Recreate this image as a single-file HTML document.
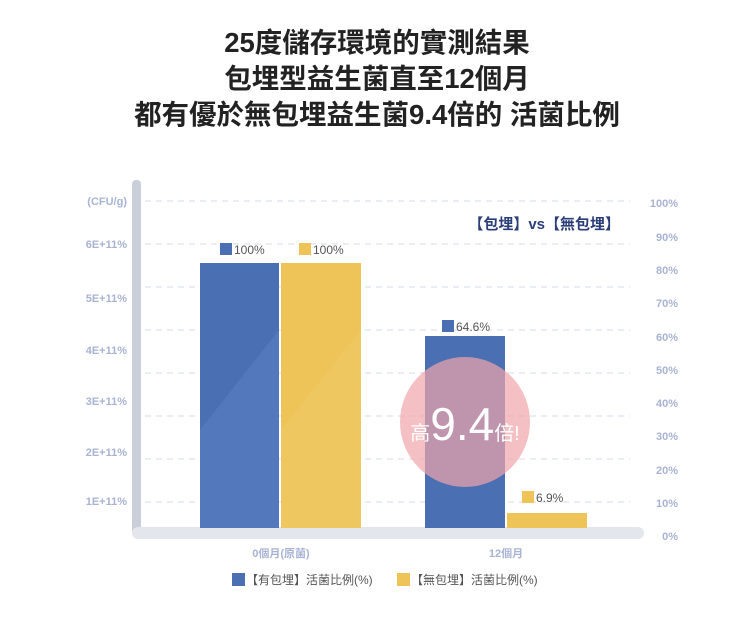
<!DOCTYPE html>
<html><head><meta charset="utf-8"><style>
body{margin:0;background:#fff;width:754px;height:613px;overflow:hidden;font-family:"Liberation Sans","Noto Sans CJK TC",sans-serif;}
</style></head><body>
<svg width="754" height="613" xmlns="http://www.w3.org/2000/svg" font-family="Liberation Sans, Noto Sans CJK TC, sans-serif">
<g font-size="27.5" font-weight="bold" fill="#222" text-anchor="middle">
<text x="377" y="52">25度儲存環境的實測結果</text>
<text x="377" y="88">包埋型益生菌直至12個月</text>
<text x="377" y="124">都有優於無包埋益生菌9.4倍的 活菌比例</text>
</g>
<g stroke="#d6dcea" stroke-dasharray="6,5" stroke-width="1">
<line x1="145" y1="201" x2="630" y2="201"/><line x1="145" y1="244" x2="630" y2="244"/>
<line x1="145" y1="287" x2="630" y2="287"/><line x1="145" y1="330" x2="630" y2="330"/>
<line x1="145" y1="373" x2="630" y2="373"/><line x1="145" y1="416" x2="630" y2="416"/>
<line x1="145" y1="459" x2="630" y2="459"/><line x1="145" y1="502" x2="630" y2="502"/>
</g>
<rect x="132" y="180" width="9" height="356" rx="4" fill="#c9ced9"/>
<rect x="132" y="527" width="512" height="12" rx="6" fill="#e3e6ed"/>
<g font-size="11" font-weight="bold" fill="#a9b3d3" text-anchor="end">
<text x="127" y="205">(CFU/g)</text><text x="127" y="248">6E+11%</text>
<text x="127" y="302">5E+11%</text><text x="127" y="354">4E+11%</text>
<text x="127" y="405">3E+11%</text><text x="127" y="456">2E+11%</text>
<text x="127" y="505">1E+11%</text>
</g>
<g font-size="11" font-weight="bold" fill="#a9b3d3" text-anchor="end">
<text x="678" y="207">100%</text><text x="678" y="241">90%</text><text x="678" y="274">80%</text>
<text x="678" y="307">70%</text><text x="678" y="341">60%</text><text x="678" y="374">50%</text>
<text x="678" y="407">40%</text><text x="678" y="440">30%</text><text x="678" y="474">20%</text>
<text x="678" y="507">10%</text><text x="678" y="540">0%</text>
</g>
<text x="620" y="229" font-size="15" font-weight="bold" fill="#2c3e7a" text-anchor="end">【包埋】vs【無包埋】</text>
<rect x="200" y="263" width="79" height="265" fill="#4a6fb3"/>
<polygon points="200,430 279,330 279,528 200,528" fill="#5a7fc0" opacity="0.6"/>
<rect x="281" y="263" width="80" height="265" fill="#eec459"/>
<polygon points="281,430 361,330 361,528 281,528" fill="#f0c966" opacity="0.6"/>
<rect x="425" y="336" width="80" height="192" fill="#4a6fb3"/>
<rect x="507" y="513" width="80" height="15" fill="#eec459"/>
<g font-size="12" fill="#555">
<rect x="220" y="243" width="12" height="12" fill="#4a6fb3"/><text x="234" y="254">100%</text>
<rect x="299" y="243" width="12" height="12" fill="#eec459"/><text x="313" y="254">100%</text>
<rect x="442" y="320" width="12" height="12" fill="#4a6fb3"/><text x="456" y="331">64.6%</text>
<rect x="522" y="491" width="12" height="12" fill="#eec459"/><text x="536" y="502">6.9%</text>
</g>
<circle cx="465" cy="422" r="65" fill="#f0a5ab" opacity="0.7"/>
<text x="465" y="440" fill="#fff" text-anchor="middle"><tspan font-size="20">高</tspan><tspan font-size="46">9.4</tspan><tspan font-size="20">倍!</tspan></text>
<g font-size="11" font-weight="bold" fill="#a9b3d3" text-anchor="middle">
<text x="281" y="557">0個月(原菌)</text><text x="506" y="557">12個月</text>
</g>
<g font-size="12" fill="#555">
<rect x="232" y="573" width="13" height="13" fill="#4a6fb3"/><text x="246" y="584">【有包埋】活菌比例(%)</text>
<rect x="397" y="573" width="13" height="13" fill="#eec459"/><text x="411" y="584">【無包埋】活菌比例(%)</text>
</g>
</svg>
</body></html>
